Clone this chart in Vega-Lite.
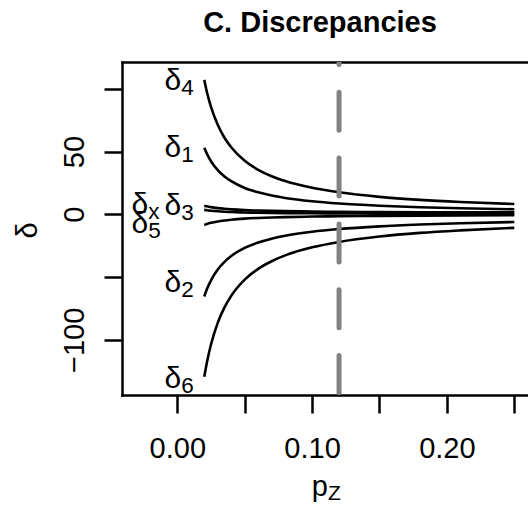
{
  "$schema": "https://vega.github.io/schema/vega-lite/v6.json",
  "autosize": {"type": "none"},
  "padding": {"left": 122, "top": 62, "right": 0, "bottom": 114},
  "width": 406,
  "height": 333,
  "background": "white",
  "title": {"text": "C. Discrepancies", "fontSize": 29, "fontWeight": "bold", "font": "Liberation Sans", "anchor": "middle", "dx": -5, "baseline": "alphabetic", "offset": 1, "color": "black"},
  "config": {
    "font": "Liberation Sans",
    "view": {"stroke": null},
    "axis": {"grid": false, "domainColor": "black", "tickColor": "black", "labelColor": "black", "titleColor": "black", "labelFont": "Liberation Sans", "titleFont": "Liberation Sans"}
  },
  "datasets": {
    "curves": [
      {"s":"4","p":0.02,"d":107.1},{"s":"4","p":0.022,"d":97.3},{"s":"4","p":0.025,"d":85.6},{"s":"4","p":0.03,"d":71.3},{"s":"4","p":0.035,"d":61.0},{"s":"4","p":0.04,"d":53.4},{"s":"4","p":0.05,"d":42.6},{"s":"4","p":0.06,"d":35.4},{"s":"4","p":0.07,"d":30.3},{"s":"4","p":0.08,"d":26.5},{"s":"4","p":0.10,"d":21.1},{"s":"4","p":0.12,"d":17.5},{"s":"4","p":0.15,"d":13.9},{"s":"4","p":0.18,"d":11.5},{"s":"4","p":0.21,"d":9.8},{"s":"4","p":0.25,"d":8.2},
      {"s":"1","p":0.02,"d":53.0},{"s":"1","p":0.022,"d":48.15},{"s":"1","p":0.025,"d":42.3},{"s":"1","p":0.03,"d":35.2},{"s":"1","p":0.035,"d":30.2},{"s":"1","p":0.04,"d":26.4},{"s":"1","p":0.05,"d":21.0},{"s":"1","p":0.06,"d":17.5},{"s":"1","p":0.07,"d":14.95},{"s":"1","p":0.08,"d":13.05},{"s":"1","p":0.10,"d":10.4},{"s":"1","p":0.12,"d":8.6},{"s":"1","p":0.15,"d":6.84},{"s":"1","p":0.18,"d":5.66},{"s":"1","p":0.21,"d":4.81},{"s":"1","p":0.25,"d":4.0},
      {"s":"3","p":0.02,"d":6.88},{"s":"3","p":0.022,"d":6.35},{"s":"3","p":0.025,"d":5.71},{"s":"3","p":0.03,"d":4.93},{"s":"3","p":0.035,"d":4.37},{"s":"3","p":0.04,"d":3.96},{"s":"3","p":0.05,"d":3.37},{"s":"3","p":0.06,"d":2.98},{"s":"3","p":0.07,"d":2.7},{"s":"3","p":0.08,"d":2.49},{"s":"3","p":0.10,"d":2.2},{"s":"3","p":0.12,"d":2.0},{"s":"3","p":0.15,"d":1.81},{"s":"3","p":0.18,"d":1.68},{"s":"3","p":0.21,"d":1.59},{"s":"3","p":0.25,"d":1.5},
      {"s":"x","p":0.02,"d":3.5},{"s":"x","p":0.022,"d":3.19},{"s":"x","p":0.025,"d":2.82},{"s":"x","p":0.03,"d":2.37},{"s":"x","p":0.035,"d":2.04},{"s":"x","p":0.04,"d":1.8},{"s":"x","p":0.05,"d":1.46},{"s":"x","p":0.06,"d":1.23},{"s":"x","p":0.07,"d":1.07},{"s":"x","p":0.08,"d":0.95},{"s":"x","p":0.10,"d":0.78},{"s":"x","p":0.12,"d":0.67},{"s":"x","p":0.15,"d":0.55},{"s":"x","p":0.18,"d":0.48},{"s":"x","p":0.21,"d":0.42},{"s":"x","p":0.25,"d":0.37},
      {"s":"5","p":0.02,"d":-8.48},{"s":"5","p":0.022,"d":-7.72},{"s":"5","p":0.025,"d":-6.81},{"s":"5","p":0.03,"d":-5.7},{"s":"5","p":0.035,"d":-4.9},{"s":"5","p":0.04,"d":-4.31},{"s":"5","p":0.05,"d":-3.47},{"s":"5","p":0.06,"d":-2.91},{"s":"5","p":0.07,"d":-2.52},{"s":"5","p":0.08,"d":-2.22},{"s":"5","p":0.10,"d":-1.8},{"s":"5","p":0.12,"d":-1.52},{"s":"5","p":0.15,"d":-1.24},{"s":"5","p":0.18,"d":-1.06},{"s":"5","p":0.21,"d":-0.93},{"s":"5","p":0.25,"d":-0.8},
      {"s":"2","p":0.02,"d":-65.5},{"s":"2","p":0.022,"d":-59.6},{"s":"2","p":0.025,"d":-52.6},{"s":"2","p":0.03,"d":-44.0},{"s":"2","p":0.035,"d":-37.9},{"s":"2","p":0.04,"d":-33.25},{"s":"2","p":0.05,"d":-26.8},{"s":"2","p":0.06,"d":-22.5},{"s":"2","p":0.07,"d":-19.4},{"s":"2","p":0.08,"d":-17.1},{"s":"2","p":0.10,"d":-13.9},{"s":"2","p":0.12,"d":-11.75},{"s":"2","p":0.15,"d":-9.6},{"s":"2","p":0.18,"d":-8.17},{"s":"2","p":0.21,"d":-7.14},{"s":"2","p":0.25,"d":-6.16},
      {"s":"6","p":0.02,"d":-129.5},{"s":"6","p":0.022,"d":-117.8},{"s":"6","p":0.025,"d":-103.7},{"s":"6","p":0.03,"d":-86.5},{"s":"6","p":0.035,"d":-74.2},{"s":"6","p":0.04,"d":-65.0},{"s":"6","p":0.05,"d":-52.1},{"s":"6","p":0.06,"d":-43.5},{"s":"6","p":0.07,"d":-37.4},{"s":"6","p":0.08,"d":-32.75},{"s":"6","p":0.10,"d":-26.3},{"s":"6","p":0.12,"d":-22.0},{"s":"6","p":0.15,"d":-17.7},{"s":"6","p":0.18,"d":-14.8},{"s":"6","p":0.21,"d":-12.8},{"s":"6","p":0.25,"d":-10.8}
    ],
    "labels": [
      {"sub":"4","p":0.02,"v":99.0},
      {"sub":"1","p":0.02,"v":45.6},
      {"sub":"3","p":0.02,"v":-0.6},
      {"sub":"x","p":-0.0045,"v":0.2},
      {"sub":"5","p":-0.0045,"v":-14.7},
      {"sub":"2","p":0.02,"v":-61.7},
      {"sub":"6","p":0.02,"v":-138.4}
    ]
  },
  "resolve": {"axis": {"x": "independent", "y": "independent"}},
  "layer": [
    {
      "data": {"name": "curves"},
      "mark": {"type": "line", "strokeWidth": 2.6, "color": "black", "interpolate": "monotone"},
      "encoding": {
        "x": {"field": "p", "type": "quantitative",
          "scale": {"domain": [-0.04102, 0.26017], "nice": false, "zero": false},
          "axis": {"orient": "bottom", "values": [0, 0.05, 0.1, 0.15, 0.2, 0.25], "format": ".2f",
            "labelExpr": "indexof(['0.00','0.10','0.20'], datum.label) >= 0 ? datum.label : ''",
            "domain": true, "domainWidth": 2.5, "domainCap": "square", "ticks": true, "tickSize": 18, "tickWidth": 2.5,
            "labelFontSize": 29, "labelBaseline": "alphabetic", "labelPadding": 44.3, "labelFlush": false, "labelOverlap": false, "labelBound": false,
            "title": "p", "titleFontSize": 29, "titleFontWeight": "normal", "titleAlign": "left", "titleBaseline": "alphabetic", "titleX": 189.3, "titleY": 100, "titleAnchor": null}},
        "y": {"field": "d", "type": "quantitative",
          "scale": {"domain": [-143.98, 121.35], "nice": false, "zero": false},
          "axis": {"orient": "left", "values": [-100, -50, 0, 50, 100],
            "labelExpr": "datum.value == 100 || datum.value == -50 ? '' : datum.label",
            "domain": true, "domainWidth": 2.5, "domainCap": "square", "ticks": true, "tickSize": 18, "tickWidth": 2.5,
            "labelFontSize": 29, "labelAngle": -90, "labelAlign": "center", "labelBaseline": "alphabetic", "labelPadding": 20.7, "labelFlush": false, "labelOverlap": false, "labelBound": false,
            "title": "δ", "titleFontSize": 29, "titleFontWeight": "normal", "titleAngle": -90, "titleAlign": "center", "titleBaseline": "alphabetic", "titleX": -85.3, "titleY": 168}},
        "detail": {"field": "s", "type": "nominal"}
      }
    },
    {
      "data": {"values": [{"v": 0.12}]},
      "mark": {"type": "rule", "color": "#828282", "strokeWidth": 5, "strokeDash": [38, 27.8], "strokeDashOffset": 35.5, "strokeCap": "round", "clip": true},
      "encoding": {
        "x": {"field": "v", "type": "quantitative",
          "axis": {"orient": "top", "domain": true, "domainWidth": 2.5, "domainCap": "square", "ticks": false, "labels": false, "title": null}},
        "y": {"datum": 121.35, "type": "quantitative", "axis": null},
        "y2": {"datum": -143.98}
      }
    },
    {
      "data": {"name": "labels"},
      "mark": {"type": "text", "text": "δ", "fontSize": 30, "align": "right", "baseline": "alphabetic", "dx": -23, "color": "black", "clip": false},
      "encoding": {
        "x": {"field": "p", "type": "quantitative", "axis": null},
        "y": {"field": "v", "type": "quantitative", "axis": null}
      }
    },
    {
      "data": {"name": "labels"},
      "mark": {"type": "text", "fontSize": 22.5, "align": "left", "baseline": "alphabetic", "dx": -23, "dy": 5, "color": "black", "clip": false},
      "encoding": {
        "x": {"field": "p", "type": "quantitative", "axis": null},
        "y": {"field": "v", "type": "quantitative", "axis": null},
        "text": {"field": "sub", "type": "nominal"}
      }
    },
    {
      "data": {"values": [{"t": "Z"}]},
      "mark": {"type": "text", "fontSize": 21, "align": "left", "baseline": "alphabetic", "color": "black", "clip": false},
      "encoding": {
        "x": {"datum": 0.1118, "type": "quantitative", "axis": null},
        "y": {"datum": -227.6, "type": "quantitative", "axis": null},
        "text": {"field": "t", "type": "nominal"}
      }
    }
  ]
}
